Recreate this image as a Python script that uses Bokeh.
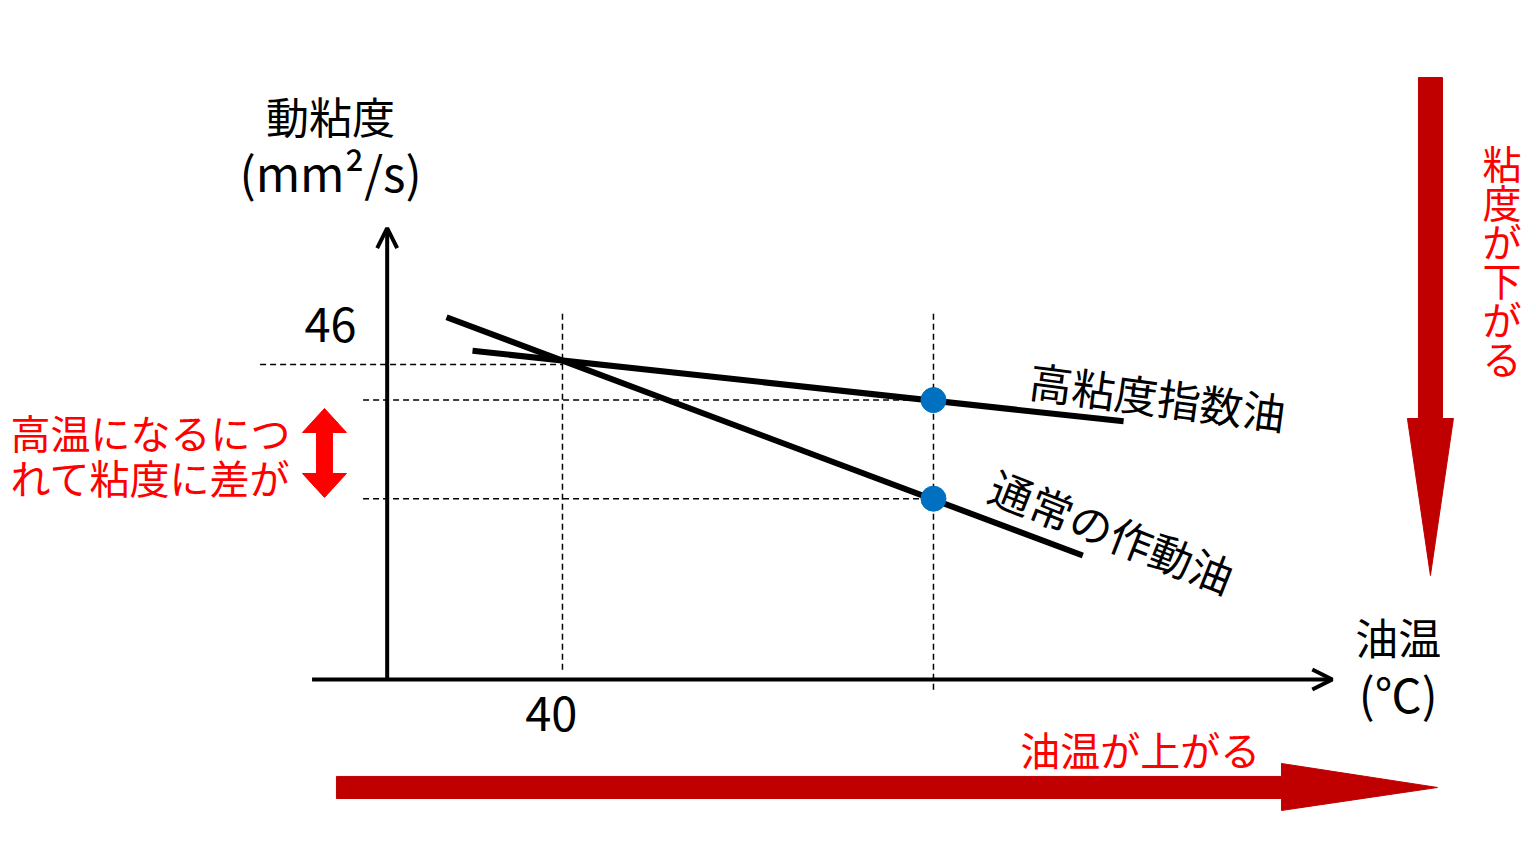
from bokeh.plotting import figure
from bokeh.models import Range1d, Arrow, OpenHead
from bokeh.core.properties import value
from bokeh.embed import file_html
from bokeh.resources import INLINE

FONT = "Noto Sans CJK JP"

# ---- data (temperature in degC on x, kinematic viscosity on y) ----
normal_oil_temp = [27.5, 96.1]
normal_oil_visc = [52.9, 18.1]
hvi_oil_temp = [30.3, 100.5]
hvi_oil_visc = [48.0, 37.7]
point_temp = [80, 80]
point_visc = [40.8, 26.4]
tick_x_value = [40]
tick_x_label = ["40"]
tick_y_value = [46]
tick_y_label = ["46"]
series_labels = ["高粘度指数油", "通常の作動油"]

# 9.275 px per degC, 6.848 px per viscosity unit
W, H = 1530, 858
x0, y_top = -20.59, 99.15
p = figure(width=W, height=H, output_backend="svg", toolbar_location=None,
           x_range=Range1d(x0, x0 + W / 9.275), y_range=Range1d(y_top - H / 6.848, y_top),
           min_border=0, min_border_left=0, min_border_right=0,
           min_border_top=0, min_border_bottom=0)
p.axis.visible = False
p.grid.visible = False
p.outline_line_color = None
p.background_fill_color = "white"
p.border_fill_color = "white"

# ---- dashed guide lines ----
dash = dict(line_color="black", line_width=1.5, line_dash="6 4")
p.line([7.4, tick_x_value[0]], [tick_y_value[0]] * 2, **dash)
p.line([18.5, point_temp[0]], [point_visc[0]] * 2, **dash)
p.line([18.5, point_temp[1]], [point_visc[1]] * 2, **dash)
p.line([tick_x_value[0]] * 2, [53.4, 1.0], **dash)
p.line([point_temp[0]] * 2, [53.4, -1.6], **dash)

# ---- axes with open arrow heads ----
p.add_layout(Arrow(end=OpenHead(size=20, line_width=4, line_color="black"),
                   x_start=21.1, y_start=0, x_end=21.1, y_end=65.9,
                   line_width=4, line_color="black"))
p.add_layout(Arrow(end=OpenHead(size=20, line_width=4, line_color="black"),
                   x_start=13.0, y_start=0, x_end=123.0, y_end=0,
                   line_width=4, line_color="black"))

# ---- series lines ----
p.line(normal_oil_temp, normal_oil_visc, line_color="black", line_width=6)
p.line(hvi_oil_temp, hvi_oil_visc, line_color="black", line_width=6)
p.scatter(point_temp, point_visc, size=25, fill_color="#0070C0", line_color="#0070C0")

# ---- tick labels ----
p.text(tick_x_value[0] - 1.2, -5.1, text=tick_x_label, text_font=value(FONT),
       text_font_size="47px", text_align="center", text_baseline="middle", text_color="black")
p.text(15.0, 51.7, text=tick_y_label, text_font=value(FONT),
       text_font_size="47px", text_align="center", text_baseline="middle", text_color="black")

# ---- axis titles ----
p.text([15.0], [82.4], text=["動粘度"], text_font=value(FONT),
       text_font_size="43px", text_align="center", text_baseline="middle", text_color="black")
p.text([15.0], [74.3], text=["(mm²/s)"], text_font=value(FONT),
       text_font_size="48px", text_align="center", text_baseline="middle", text_color="black")
p.text([130.1], [6.3], text=["油温"], text_font=value(FONT),
       text_font_size="43px", text_align="center", text_baseline="middle", text_color="black")
p.text([130.1], [-1.9], text=["(℃)"], text_font=value(FONT),
       text_font_size="47px", text_align="center", text_baseline="middle", text_color="black")

# ---- series labels ----
p.text([104.2], [41.5], text=[series_labels[0]], angle=-7.5, angle_units="deg",
       text_font=value(FONT), text_font_size="43px", text_align="center",
       text_baseline="middle", text_color="black")
p.text([99.3], [21.8], text=[series_labels[1]], angle=-21.5, angle_units="deg",
       text_font=value(FONT), text_font_size="43px", text_align="center",
       text_baseline="middle", text_color="black")

# ---- red annotations ----
RED = "#FF0000"
DARK = "#C00000"
p.text([-19.5, -19.5], [36.1, 29.5], text=["高温になるにつ", "れて粘度に差が"],
       text_font=value(FONT), text_font_size="40px", text_align="left",
       text_baseline="middle", text_color=RED)
p.patch([14.34, 16.71, 15.20, 15.20, 16.71, 14.34, 11.97, 13.48, 13.48, 11.97],
        [39.57, 36.07, 36.07, 30.08, 30.08, 26.58, 30.08, 30.08, 36.07, 36.07],
        fill_color=RED, line_color=RED, line_width=1)

vchars = list("粘度が下がる")
vy = [75.5 - i * 5.69 for i in range(len(vchars))]
p.text([141.3] * len(vchars), vy, text=vchars, text_font=value(FONT),
       text_font_size="39px", text_align="center", text_baseline="middle", text_color=RED)
p.patch([132.29, 134.88, 134.88, 136.06, 133.58, 131.10, 132.29],
        [87.91, 87.91, 38.11, 38.11, 15.19, 38.11, 38.11],
        fill_color=DARK, line_color=DARK, line_width=1)

p.text([102.3], [-10.1], text=["油温が上がる"], text_font=value(FONT),
       text_font_size="40px", text_align="center", text_baseline="middle", text_color=RED)
p.patch([15.63, 117.52, 117.52, 134.34, 117.52, 117.52, 15.63],
        [-14.16, -14.16, -12.27, -15.77, -19.13, -17.38, -17.38],
        fill_color=DARK, line_color=DARK, line_width=1)

open("out.html", "w").write(file_html(p, INLINE))
